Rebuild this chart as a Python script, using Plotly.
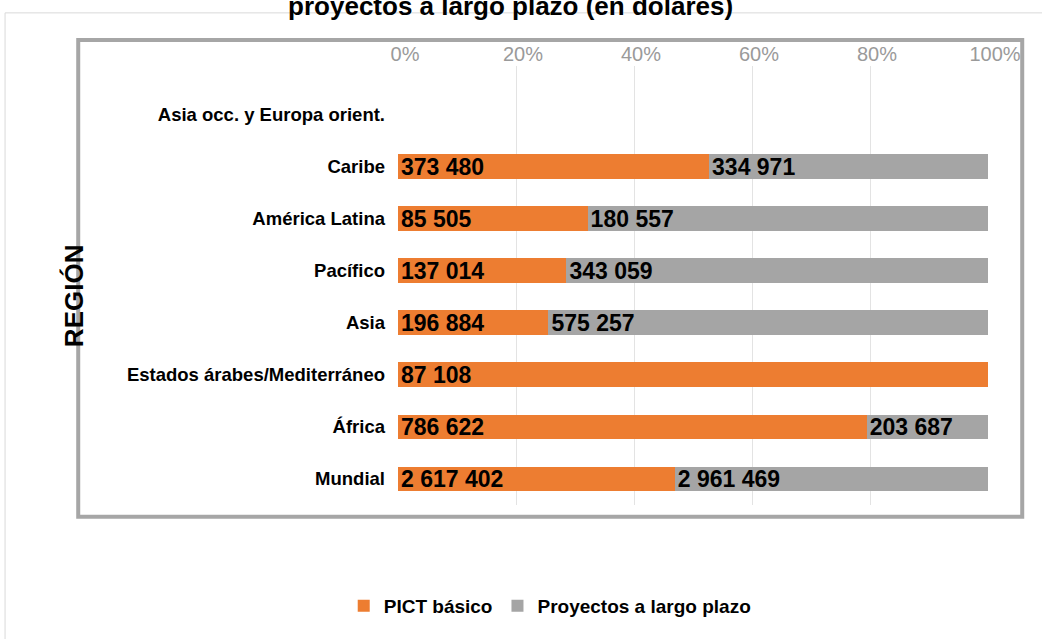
# Financiación por región: PICT básico vs proyectos a largo plazo

import plotly.graph_objs as go

# Regions (bottom to top as drawn)
regions = ["Mundial", "África", "Estados árabes/Mediterráneo", "Asia", "Pacífico",
           "América Latina", "Caribe", "Asia occ. y Europa orient."]
pict_basico = [2617402, 786622, 87108, 196884, 137014, 85505, 373480, None]
largo_plazo = [2961469, 203687, None, 575257, 343059, 180557, 334971, None]
x_ticks = [0, 20, 40, 60, 80, 100]
x_tick_labels = ["0%", "20%", "40%", "60%", "80%", "100%"]

ORANGE = "#ED7D31"
GRAY = "#A5A5A5"


def fmt(v):
    # thousands separated with a space, as in the source
    return "" if v is None else f"{v:,}".replace(",", " ")


fig = go.Figure()
for name, vals, color in [("PICT básico", pict_basico, ORANGE),
                          ("Proyectos a largo plazo", largo_plazo, GRAY)]:
    fig.add_trace(go.Bar(y=regions, x=vals, name=name, orientation="h",
                         marker=dict(color=color, line=dict(width=0)),
                         text=[fmt(v) for v in vals],
                         textposition="inside", insidetextanchor="start",
                         constraintext="none", cliponaxis=False,
                         textfont=dict(family="Liberation Sans", size=23, color="black",
                                       weight="bold"),
                         hoverinfo="skip"))

fig.update_layout(
    width=1042, height=639,
    barmode="stack", barnorm="percent", bargap=0.52,
    plot_bgcolor="white", paper_bgcolor="white",
    margin=dict(l=398, r=54, t=66, b=134),
    font=dict(family="Liberation Sans", color="black"),
    title=dict(text="<b>proyectos a largo plazo (en dólares)</b>", x=0.49, xanchor="center",
               y=0.991, yanchor="middle", font=dict(size=26, color="black")),
    showlegend=True,
    legend=dict(orientation="h", x=-0.092, xanchor="left", y=-0.23, yanchor="middle",
                traceorder="normal", font=dict(size=19, weight="bold"),
                itemwidth=30, bgcolor="rgba(0,0,0,0)"),
)

fig.update_xaxes(side="top", range=[0, 100], tickvals=x_ticks, ticktext=x_tick_labels,
                 showgrid=True, gridcolor="#e3e3e3", gridwidth=1, zeroline=False,
                 showline=False, ticks="", ticklabelshift=7, ticklabelstandoff=0,
                 tickfont=dict(family="Liberation Sans Narrow, Liberation Sans", size=20,
                               color="#9a9a9a"))
fig.update_yaxes(range=[-0.5, 7.94], showgrid=False, showline=False, ticks="",
                 ticklabelstandoff=12,
                 tickfont=dict(size=18.5, color="black", weight="bold"))

# axis title drawn as annotation to place it like the source
fig.add_annotation(text="<b>REGIÓN</b>", xref="paper", yref="paper", x=-0.578, y=0.478,
                   textangle=-90, showarrow=False, font=dict(size=26, color="black"))

# chart area frame and outer page frame
fig.add_shape(type="rect", xref="paper", yref="paper", x0=-0.542, x1=1.058, y0=-0.027, y1=1.059,
              line=dict(color="#a6a6a6", width=4), layer="below")
fig.add_shape(type="rect", xref="paper", yref="paper", x0=-0.666, x1=1.2, y0=-0.5, y1=1.121,
              line=dict(color="#d9d9d9", width=1), layer="below")

fig.write_html("out.html", config={"displayModeBar": False},
               post_script="document.body.style.margin='0';")
